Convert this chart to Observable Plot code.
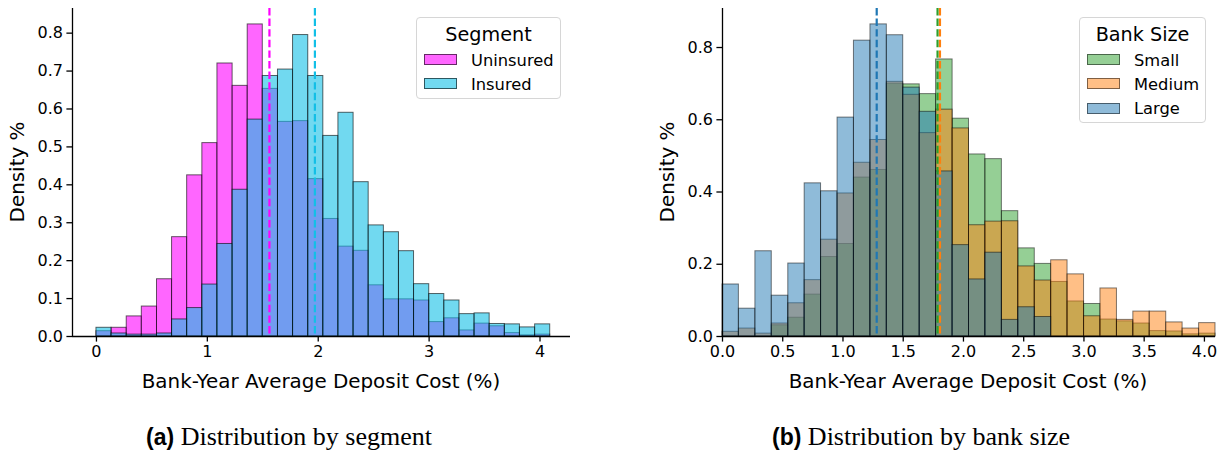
<!DOCTYPE html>
<html><head><meta charset="utf-8">
<script src="https://cdn.jsdelivr.net/npm/d3@7"></script>
<script src="https://cdn.jsdelivr.net/npm/@observablehq/plot@0.6"></script>
<style>
body{margin:0;background:#fff;}
#root{position:relative;width:1225px;height:455px;overflow:hidden;font-family:"DejaVu Sans",sans-serif;color:#000;}
.abs{position:absolute;}
.plot{position:absolute;top:0;}
.xlab{position:absolute;font-size:19.9px;white-space:nowrap;transform:translate(-50%,-50%);}
.ylab{position:absolute;font-size:19.9px;white-space:nowrap;transform:translate(-50%,-50%) rotate(-90deg);}
.legend{position:absolute;border:1px solid #d6d6d6;border-radius:4px;background:rgba(255,255,255,0.8);box-sizing:border-box;}
.legend .title{position:absolute;left:0;right:0;text-align:center;font-size:19.2px;transform:translateY(-50%);}
.legend .sw{position:absolute;width:33px;height:11px;box-sizing:border-box;}
.legend .lab{position:absolute;font-size:16.3px;transform:translateY(-50%);white-space:nowrap;}
.cap{position:absolute;white-space:nowrap;font-family:"Liberation Serif",serif;font-size:26px;transform:translate(-50%,-50%);}
.cap b{font-family:"Liberation Sans",sans-serif;font-weight:bold;font-size:23px;}
</style></head><body><div id="root"></div>
<script>
// shared histogram bin edges (% deposit cost)
const binEdges = [0,0.136,0.273,0.409,0.546,0.682,0.818,0.955,1.091,1.228,1.364,1.500,1.637,1.773,1.910,2.046,2.182,2.319,2.455,2.592,2.728,2.864,3.001,3.137,3.274,3.410,3.546,3.683,3.819,3.956,4.092];

// (a) by segment — density %
const segmentNames = ["Uninsured","Insured"];
const uninsured = [0.014,0.023,0.053,0.079,0.151,0.262,0.425,0.510,0.720,0.661,0.823,0.653,0.566,0.568,0.415,0.310,0.237,0.226,0.135,0.098,0.098,0.095,0.038,0.048,0.016,0.034,0.027,0.009,0.003,0.005];
const insured   = [0.023,0.008,0.005,0.005,0.008,0.045,0.075,0.137,0.244,0.387,0.572,0.687,0.704,0.795,0.687,0.529,0.590,0.407,0.293,0.275,0.225,0.138,0.112,0.095,0.059,0.061,0.033,0.032,0.024,0.032];
const segmentMeans = [1.56,1.97];
const segmentColors = ["#ff00ff","#12bfe6"];

// (b) by bank size — density %
const sizeNames = ["Small","Medium","Large"];
const small  = [0,0,0,0.031,0.052,0.116,0.220,0.256,0.440,0.461,0.700,0.698,0.671,0.767,0.603,0.504,0.491,0.347,0.244,0.201,0.151,0.097,0.090,0.047,0.042,0.036,0.015,0.014,0.006,0.008];
const medium = [0.013,0.022,0.008,0.036,0.092,0.156,0.268,0.396,0.481,0.544,0.705,0.669,0.563,0.628,0.576,0.308,0.318,0.319,0.194,0.155,0.211,0.172,0.056,0.133,0.046,0.069,0.069,0.039,0.022,0.037];
const large  = [0.144,0.077,0.236,0.113,0.202,0.424,0.402,0.606,0.819,0.864,0.834,0.689,0.622,0.457,0.253,0.158,0.232,0.046,0.081,0.054,0,0,0,0,0,0,0,0,0,0];
const sizeMeans = [1.785,1.805,1.28];
const sizeColors = ["#2ca02c","#ff7f0e","#1f77b4"];

// ticks
const leftXTicks = [0,1,2,3,4];
const leftYTicks = [0,0.1,0.2,0.3,0.4,0.5,0.6,0.7,0.8];
const rightXTicks = [0,0.5,1,1.5,2,2.5,3,3.5,4];
const rightYTicks = [0,0.2,0.4,0.6,0.8];

const xLabel = "Bank-Year Average Deposit Cost (%)";
const yLabel = "Density %";

function rows(vals){ return vals.map((v,i)=>({x1:binEdges[i], x2:binEdges[i+1], y:v})); }

function panel(o){
  const marks = [];
  o.series.forEach((vals,i)=>marks.push(Plot.rectY(rows(vals),{x1:"x1",x2:"x2",y:"y",inset:0,fill:o.colors[i],fillOpacity:o.alpha,stroke:"#000",strokeOpacity:o.alpha,strokeWidth:1})));
  o.means.forEach((m,i)=>marks.push(Plot.ruleX([m],{stroke:o.colors[i],strokeWidth:2.2,strokeDasharray:"7.4,3.2"})));
  marks.push(Plot.ruleY([0],{stroke:"#000",strokeWidth:1.3}));
  marks.push(Plot.ruleX([o.xDomain[0]],{stroke:"#000",strokeWidth:1.3}));
  marks.push(Plot.axisX({ticks:o.xTicks,tickFormat:o.xFmt,tickSize:5.6,tickPadding:4,fontSize:16,label:null,strokeWidth:1.3}));
  marks.push(Plot.axisY({ticks:o.yTicks,tickFormat:d3.format(".1f"),tickSize:5.6,tickPadding:4,fontSize:16,label:null,strokeWidth:1.3}));
  return Plot.plot({width:o.width,height:400,marginLeft:72,marginRight:o.marginRight,marginTop:8,marginBottom:64,
    x:{domain:o.xDomain},y:{domain:o.yDomain},
    style:{fontFamily:'"DejaVu Sans",sans-serif',fontSize:"16px",color:"#000",background:"transparent",overflow:"visible"},
    marks});
}

const root = document.getElementById("root");
function add(el,left){ el.classList.add("plot"); el.style.left=left+"px"; root.appendChild(el); }

add(panel({series:[uninsured,insured],colors:segmentColors,alpha:0.6,means:segmentMeans,
  xDomain:[-0.216,4.275],yDomain:[0,0.865],xTicks:leftXTicks,yTicks:leftYTicks,xFmt:d3.format("d"),width:600,marginRight:30}),0);
add(panel({series:[small,medium,large],colors:sizeColors,alpha:0.5,means:sizeMeans,
  xDomain:[0,4.092],yDomain:[0,0.908],xTicks:rightXTicks,yTicks:rightYTicks,xFmt:d3.format(".1f"),width:575,marginRight:10}),650);

function div(cls,html,style){ const d=document.createElement("div"); d.className=cls; d.innerHTML=html; Object.assign(d.style,style); root.appendChild(d); return d; }

div("xlab",xLabel,{left:"321px",top:"381px"});
div("xlab",xLabel,{left:"968px",top:"381px"});
div("ylab",yLabel,{left:"17px",top:"172px"});
div("ylab",yLabel,{left:"667px",top:"172px"});

function hexA(h,a){ const c=d3.color(h); return `rgba(${c.r},${c.g},${c.b},${a})`; }
function legend(x,y,w,h,title,names,colors,alpha,swX,labX){
  const L = div("legend","",{left:x+"px",top:y+"px",width:w+"px",height:h+"px"});
  const t=document.createElement("div"); t.className="title"; t.textContent=title; t.style.top=(32.5-y)+"px"; L.appendChild(t);
  names.forEach((n,i)=>{
    const cy = 58.5+24.3*i - y;
    const s=document.createElement("div"); s.className="sw";
    Object.assign(s.style,{left:(swX-x)+"px",top:(cy-5.5)+"px",background:hexA(colors[i],alpha),border:`1px solid rgba(0,0,0,${alpha})`});
    L.appendChild(s);
    const l=document.createElement("div"); l.className="lab"; l.textContent=n;
    Object.assign(l.style,{left:(labX-x)+"px",top:(cy)+"px"}); L.appendChild(l);
  });
}
legend(416,17,145,82,"Segment",segmentNames,segmentColors,0.6,423,470);
legend(1079,17,127,106,"Bank Size",sizeNames,sizeColors,0.5,1086,1133);

div("cap","<b>(a)</b> Distribution by segment",{left:"289px",top:"437px"});
div("cap","<b>(b)</b> Distribution by bank size",{left:"921px",top:"437px"});
</script></body></html>
